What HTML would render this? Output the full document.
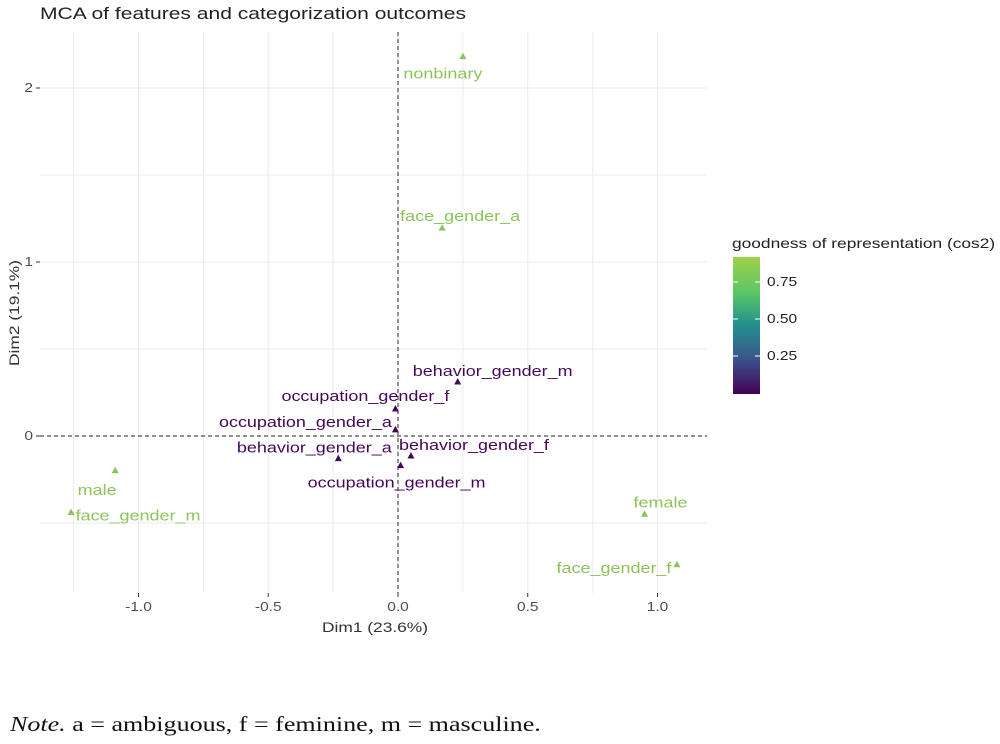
<!DOCTYPE html>
<html><head><meta charset="utf-8"><style>
body{margin:0;background:#fff;width:1000px;height:744px;overflow:hidden}
svg{position:absolute;left:0;top:0}
.note{position:absolute;left:10px;top:712px;font-family:"Liberation Serif",serif;font-size:21px;color:#111;transform:scaleX(1.24);transform-origin:0 0;white-space:nowrap}
</style></head><body>
<svg id="chart" width="1000" height="744">
<defs><linearGradient id="vir" x1="0" y1="1" x2="0" y2="0">
<stop offset="0" stop-color="#440154"/><stop offset="0.25" stop-color="#3b528b"/><stop offset="0.5" stop-color="#21908c"/><stop offset="0.75" stop-color="#5dc863"/><stop offset="1" stop-color="#a0d04a"/></linearGradient></defs>
<text transform="translate(40,19) scale(1.24,1)" font-family="Liberation Sans,sans-serif" font-size="17" fill="#222">MCA of features and categorization outcomes</text>
<g id="grid"></g><g id="pts"></g>
<text transform="translate(375,632) scale(1.24,1)" text-anchor="middle" font-family="Liberation Sans,sans-serif" font-size="14" fill="#333">Dim1 (23.6%)</text>
<text transform="translate(19,313) rotate(-90) scale(1.24,1)" text-anchor="middle" font-family="Liberation Sans,sans-serif" font-size="14" fill="#333">Dim2 (19.1%)</text>
<g>
<text transform="translate(732,248) scale(1.24,1)" font-family="Liberation Sans,sans-serif" font-size="14" fill="#222">goodness of representation (cos2)</text>
<rect x="733" y="257" width="27" height="137" fill="url(#vir)"/>
<g id="leg"></g></g>
</svg>
<div class="note"><i>Note.</i> a = ambiguous, f = feminine, m = masculine.</div>
<script>
const labels=["nonbinary","face_gender_a","behavior_gender_m","occupation_gender_f","occupation_gender_a","behavior_gender_a","behavior_gender_f","occupation_gender_m","male","face_gender_m","female","face_gender_f"];
const dim1=[0.25,0.17,0.23,-0.01,-0.01,-0.23,0.05,0.01,-1.09,-1.26,0.95,1.075];
const dim2=[2.18,1.195,0.31,0.155,0.035,-0.13,-0.115,-0.17,-0.2,-0.44,-0.45,-0.74];
const cos2=[0.9,0.88,0.03,0.01,0.005,0.02,0.01,0.01,0.9,0.9,0.9,0.9];
const labDx=[-20,18,35,-30,-90,-24,63,-4,-18,67,16,-63];
const labDy=[17,-12,-11,-13,-8,-11,-11,17,19,3,-12,3];
const xTicks=[-1.0,-0.5,0.0,0.5,1.0];
const yTicks=[0,1,2];
const legTicks=[0.25,0.5,0.75];
const NS="http://www.w3.org/2000/svg";
const L=40,R=707,T=32,B=593,S=1.24;
const X=v=>398+v*259.5, Y=v=>436-v*174;
function mk(t,a,p){const e=document.createElementNS(NS,t);for(const k in a)e.setAttribute(k,a[k]);p.appendChild(e);return e;}
function txt(x,y,a,p){return mk('text',Object.assign({transform:`translate(${x},${y}) scale(${S},1)`,'font-family':'Liberation Sans,sans-serif'},a),p);}
function vir(c){const s=[[68,1,84],[59,82,139],[33,144,140],[93,200,99],[145,196,88]];const t=Math.min(Math.max(c/0.92,0),1)*4;const i=Math.min(Math.floor(t),3),f=t-i;return `rgb(${s[i].map((v,j)=>Math.round(v+(s[i+1][j]-v)*f)).join(',')})`;}
const g=document.getElementById('grid');
for(let v=-1.25;v<=1.01;v+=0.25){const l=mk('line',{x1:X(v),x2:X(v),y1:T,y2:B,stroke:'#ebebeb','stroke-width':1},g);}
for(let v=-0.5;v<=2.01;v+=0.5){const l=mk('line',{x1:L,x2:R,y1:Y(v),y2:Y(v),stroke:'#ebebeb','stroke-width':1},g);}
xTicks.forEach(v=>{mk('line',{x1:X(v),x2:X(v),y1:B,y2:B+4,stroke:'#333'},g);const t=txt(X(v),B+18,{'text-anchor':'middle','font-size':12.5,fill:'#4d4d4d'},g);t.textContent=v.toFixed(1);});
yTicks.forEach(v=>{mk('line',{x1:L-4,x2:L,y1:Y(v),y2:Y(v),stroke:'#333'},g);const t=txt(L-7,Y(v)+4,{'text-anchor':'end','font-size':12.5,fill:'#4d4d4d'},g);t.textContent=v;});
const h=mk('line',{x1:L,x2:R,y1:Y(0),y2:Y(0),stroke:'#222','stroke-dasharray':'4,3'},g);
const vl=mk('line',{x1:X(0),x2:X(0),y1:T,y2:B,stroke:'#222','stroke-dasharray':'4,3'},g);
const p=document.getElementById('pts');
labels.forEach((n,i)=>{const x=X(dim1[i]),y=Y(dim2[i]),c=vir(cos2[i]);
const tr=mk('polygon',{points:`${x},${y-4} ${x-3.5},${y+2.5} ${x+3.5},${y+2.5}`,fill:c},p);


const t=txt(x+labDx[i],y+labDy[i]+5,{'text-anchor':'middle','font-size':14.5,fill:c},p);t.textContent=n;

});
const lg=document.getElementById('leg');
legTicks.forEach(v=>{const y=393-v*148;mk('line',{x1:733,x2:738,y1:y,y2:y,stroke:'#fff'},lg);mk('line',{x1:755,x2:760,y1:y,y2:y,stroke:'#fff'},lg);const t=txt(767,y+4,{'font-size':12.5,fill:'#222'},lg);t.textContent=v.toFixed(2);

});
</script>
</body></html>
